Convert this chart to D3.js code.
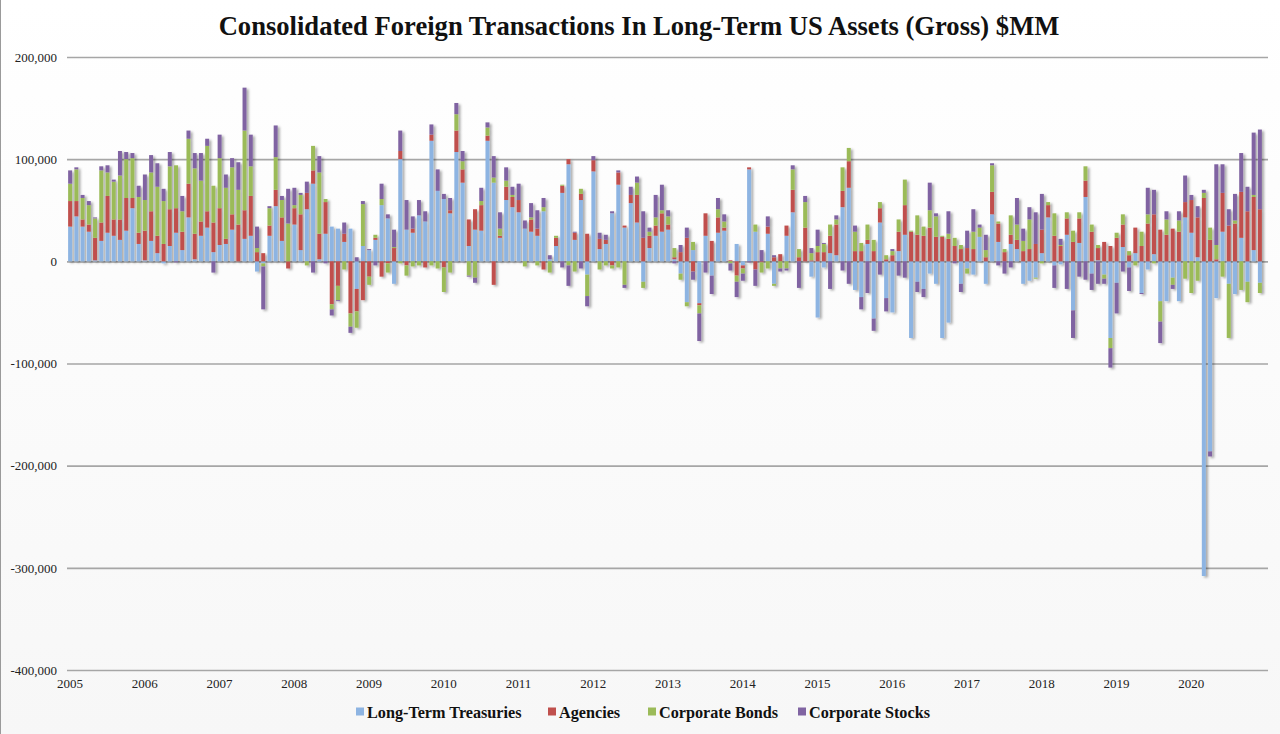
<!DOCTYPE html>
<html>
<head>
<meta charset="utf-8">
<script src="https://cdn.jsdelivr.net/npm/d3@7"></script>
<style>
  html, body { margin: 0; padding: 0; background: #fff; }
  svg { display: block; }
</style>
</head>
<body>
<svg id="chart" width="1280" height="734"></svg>
<script>
// ---- Data ($MM), monthly Jan 2005 .. Dec 2020 ----
const startYear = 2005;
const yearLabels = ["2005","2006","2007","2008","2009","2010","2011","2012","2013","2014","2015","2016","2017","2018","2019","2020"];
const yTicks = [200000, 100000, 0, -100000, -200000, -300000, -400000];
const seriesNames = ["Long-Term Treasuries", "Agencies", "Corporate Bonds", "Corporate Stocks"];
const seriesColors = ["#8DB4E2", "#C0504D", "#9BBB59", "#8064A2"];

const treasuries = [34000,44000,34000,29000,1000,20000,28000,25000,21000,30000,52000,17000,
  1000,20000,8000,-2000,15000,28000,11000,43000,2000,25000,33000,9000,
  16000,17000,31000,0,22000,25000,-10000,-2000,25000,54000,20000,0,
  36000,11000,51000,76000,2000,27000,34000,32000,19000,32000,-27000,15000,
  11000,21000,55000,42000,-22000,100000,31000,28000,45000,39000,118000,69000,
  61000,47000,107000,77000,15000,31000,30000,118000,77000,23000,60000,53000,
  48000,32000,29000,25000,49000,2000,15000,67000,95000,21000,60000,-13000,
  88000,12000,17000,47000,75000,33000,57000,38000,-20000,13000,25000,29000,
  31000,2000,-12000,-40000,11000,-41000,25000,-14000,28000,30000,0,17000,
  -4000,90000,29000,0,27000,-22000,0,25000,48000,0,0,-15000,
  -55000,-6000,8000,6000,53000,72000,-28000,-35000,17000,-56000,38000,-36000,
  -50000,10000,26000,-75000,-20000,-27000,-12000,-22000,-75000,-60000,0,-22000,
  -7000,-13000,24000,-22000,46000,19000,0,17000,12000,-22000,-19000,-16000,
  8000,43000,-4000,-3000,26000,-48000,18000,63000,-12000,1000,-13000,-75000,
  -21000,14000,-6000,8000,-31000,-8000,7000,-39000,-39000,-16000,-39000,43000,
  28000,4000,-308000,-186000,-36000,29000,-22000,-32000,23000,-20000,11000,-21000];

const agencies = [25000,15000,7000,7000,22000,18000,36000,16000,20000,32000,10000,11000,
  29000,29000,17000,17000,36000,24000,18000,33000,25000,14000,16000,29000,
  36000,5000,15000,36000,28000,39000,9000,8000,10000,16000,23000,-7000,
  16000,35000,16000,13000,25000,31000,-42000,-24000,8000,-51000,-22000,-38000,
  -15000,2000,-15000,-2000,13000,8000,-4000,4000,0,-6000,6000,0,
  -6000,3000,21000,13000,26000,20000,25000,5000,-23000,2000,13000,10000,
  12000,0,12000,7000,-8000,0,8000,7000,5000,7000,6000,27000,
  11000,10000,4000,-4000,12000,2000,8000,27000,23000,12000,10000,18000,
  5000,2000,9000,23000,-10000,-2000,22000,20000,15000,3000,1000,-14000,
  -3000,2000,-8000,-1000,7000,4000,7000,10000,22000,4000,33000,1000,
  9000,9000,17000,30000,16000,26000,10000,10000,4000,10000,14000,2000,
  6000,19000,29000,29000,26000,25000,33000,24000,24000,22000,15000,12000,
  13000,12000,0,4000,22000,18000,9000,9000,9000,10000,12000,17000,
  23000,12000,25000,15000,16000,19000,24000,16000,29000,12000,19000,15000,
  23000,22000,6000,25000,15000,37000,39000,31000,26000,32000,29000,15000,
  32000,39000,62000,21000,2000,38000,35000,37000,45000,49000,52000,51000];

const corpBonds = [17000,31000,21000,19000,19000,51000,23000,37000,43000,38000,39000,35000,
  30000,38000,48000,42000,42000,42000,20000,44000,64000,40000,64000,36000,
  49000,50000,46000,34000,78000,29000,4000,-3000,17000,32000,17000,37000,
  3000,19000,-4000,24000,60000,3000,-5000,-14000,-8000,-13000,-16000,41000,
  -8000,3000,6000,-9000,1000,-2000,-10000,-5000,-4000,0,-4000,-7000,
  -24000,-11000,16000,8000,-14000,-16000,4000,8000,5000,7000,6000,2000,
  0,-5000,2000,-4000,4000,-11000,2000,1000,-4000,-10000,5000,-21000,
  0,-8000,-4000,-3000,-6000,-23000,0,12000,-6000,4000,8000,3000,
  8000,9000,-6000,-4000,8000,-8000,0,0,8000,6000,-2000,-6000,
  -5000,0,7000,-10000,-7000,-2000,-7000,-7000,20000,8000,25000,7000,
  6000,8000,11000,5000,23000,13000,19000,8000,15000,11000,6000,4000,
  4000,12000,25000,1000,19000,9000,17000,20000,1000,5000,8000,4000,
  -5000,17000,9000,7000,26000,2000,3000,19000,15000,10000,29000,-1000,
  -2000,3000,22000,1000,6000,11000,6000,14000,7000,3000,-4000,-10000,
  5000,10000,4000,-4000,14000,9000,-2000,-20000,15000,-7000,11000,-17000,
  -31000,-19000,5000,12000,14000,-15000,-53000,3000,-28000,-20000,2000,-10000];

const corpStocks = [13000,2000,3000,4000,1000,4000,7000,2000,24000,7000,5000,11000,
  25000,17000,23000,12000,14000,-1000,15000,8000,15000,27000,7000,-11000,
  23000,13000,9000,27000,42000,31000,21000,-42000,2000,31000,4000,34000,
  17000,2000,11000,-11000,16000,-2000,-6000,-1000,11000,-6000,4000,3000,
  1000,-4000,15000,4000,17000,20000,29000,12000,15000,10000,10000,21000,
  5000,12000,11000,10000,-1000,-5000,13000,5000,21000,16000,13000,8000,
  16000,8000,14000,18000,9000,4000,0,-6000,-20000,1000,-7000,-10000,
  4000,6000,5000,2000,2000,-3000,8000,6000,26000,4000,22000,25000,
  6000,-2000,7000,10000,-8000,-27000,-11000,-18000,11000,7000,-7000,-15000,
  -7000,-1000,-16000,11000,10000,2000,-3000,-2000,4000,-26000,6000,5000,
  16000,1000,-27000,4000,-9000,-22000,6000,-12000,-31000,-12000,-13000,-13000,
  2000,-14000,-16000,0,-10000,-8000,27000,3000,0,22000,-2000,-8000,
  17000,22000,3000,15000,2000,-4000,-12000,-6000,26000,12000,12000,31000,
  35000,0,-22000,6000,-27000,-27000,-15000,-18000,-16000,-22000,-5000,-19000,
  -30000,-10000,-23000,0,-1000,26000,24000,-21000,8000,-4000,9000,26000,
  5000,11000,3000,-5000,79000,28000,16000,26000,38000,24000,61000,78000];

// ---- Build table for the stack ----
const months = d3.range(treasuries.length);
const table = months.map(i => ({
  i,
  s0: treasuries[i], s1: agencies[i], s2: corpBonds[i], s3: corpStocks[i]
}));
const keys = ["s0", "s1", "s2", "s3"];
const stacked = d3.stack().keys(keys).offset(d3.stackOffsetDiverging)(table);

// ---- Layout ----
const svg = d3.select("#chart");
const W = 1280, H = 734;
const plot = { left: 67, right: 1263, top: 57, bottom: 670 };
const serif = "'Liberation Serif', 'Times New Roman', serif";

// subtle background
const defs = svg.append("defs");
const bg = defs.append("linearGradient").attr("id", "bgGrad").attr("x1", 0).attr("y1", 0).attr("x2", 0).attr("y2", 1);
bg.append("stop").attr("offset", "0%").attr("stop-color", "#ffffff");
bg.append("stop").attr("offset", "100%").attr("stop-color", "#f7f7f7");
svg.append("rect").attr("x", 0).attr("y", 0).attr("width", W).attr("height", H).attr("fill", "url(#bgGrad)");
svg.append("line").attr("x1", 0.5).attr("x2", 0.5).attr("y1", 0).attr("y2", H).attr("stroke", "#9a9a9a");

const shadow = defs.append("filter").attr("id", "shadow").attr("x", "-50%").attr("y", "-10%").attr("width", "250%").attr("height", "130%");
shadow.append("feDropShadow").attr("dx", 2.2).attr("dy", 1.5).attr("stdDeviation", 1.2)
  .attr("flood-color", "#000").attr("flood-opacity", 0.32);

const x = d3.scaleBand().domain(months).range([plot.left, plot.right]).paddingInner(0.36).paddingOuter(0.18);
const y = d3.scaleLinear().domain([-400000, 200000]).range([plot.bottom, plot.top]);

// Title
svg.append("text")
  .attr("x", 639).attr("y", 35)
  .attr("text-anchor", "middle")
  .attr("font-family", serif)
  .attr("font-weight", "bold")
  .attr("font-size", 26.6)
  .attr("fill", "#111")
  .text("Consolidated Foreign Transactions In Long-Term US Assets (Gross) $MM");

// Gridlines + y labels
const yAxis = d3.axisLeft(y).tickValues(yTicks).tickSize(-(1268 - plot.left)).tickPadding(10)
  .tickFormat(d => d3.format(",")(d).replace("−", "-"));
const gy = svg.append("g").attr("transform", `translate(${plot.left},0)`).call(yAxis);
gy.select(".domain").remove();
gy.selectAll(".tick line").attr("stroke", "#a6a6a6").attr("stroke-width", 1.6);
gy.selectAll(".tick text")
  .attr("font-family", serif)
  .attr("font-size", 13).attr("fill", "#222");

// Bars
const gBars = svg.append("g").attr("filter", "url(#shadow)");
stacked.forEach((layer, si) => {
  gBars.append("g").attr("fill", seriesColors[si])
    .selectAll("rect").data(layer).join("rect")
    .attr("x", d => x(d.data.i))
    .attr("width", x.bandwidth())
    .attr("y", d => y(Math.max(d[0], d[1])))
    .attr("height", d => Math.abs(y(d[0]) - y(d[1])));
});

// X axis year labels (at January of each year)
const xAxis = d3.axisBottom(x)
  .tickValues(yearLabels.map((_, k) => k * 12))
  .tickSize(0).tickPadding(9)
  .tickFormat(d => yearLabels[d / 12]);
const gx = svg.append("g").attr("transform", `translate(0,${plot.bottom})`).call(xAxis);
gx.select(".domain").remove();
gx.selectAll(".tick text")
  .attr("font-family", serif)
  .attr("font-size", 13).attr("fill", "#222");

// Legend
const legendX = [356, 548, 648, 798];
const legend = svg.append("g").attr("transform", "translate(0,712)");
seriesNames.forEach((name, i) => {
  const g = legend.append("g").attr("transform", `translate(${legendX[i]},0)`);
  g.append("rect").attr("x", 0).attr("y", -4.5).attr("width", 8).attr("height", 8).attr("fill", seriesColors[i]);
  g.append("text").attr("x", 11).attr("y", 5.5)
    .attr("font-family", serif)
    .attr("font-weight", "bold").attr("font-size", 16.2).attr("fill", "#111")
    .text(name);
});
</script>
</body>
</html>
